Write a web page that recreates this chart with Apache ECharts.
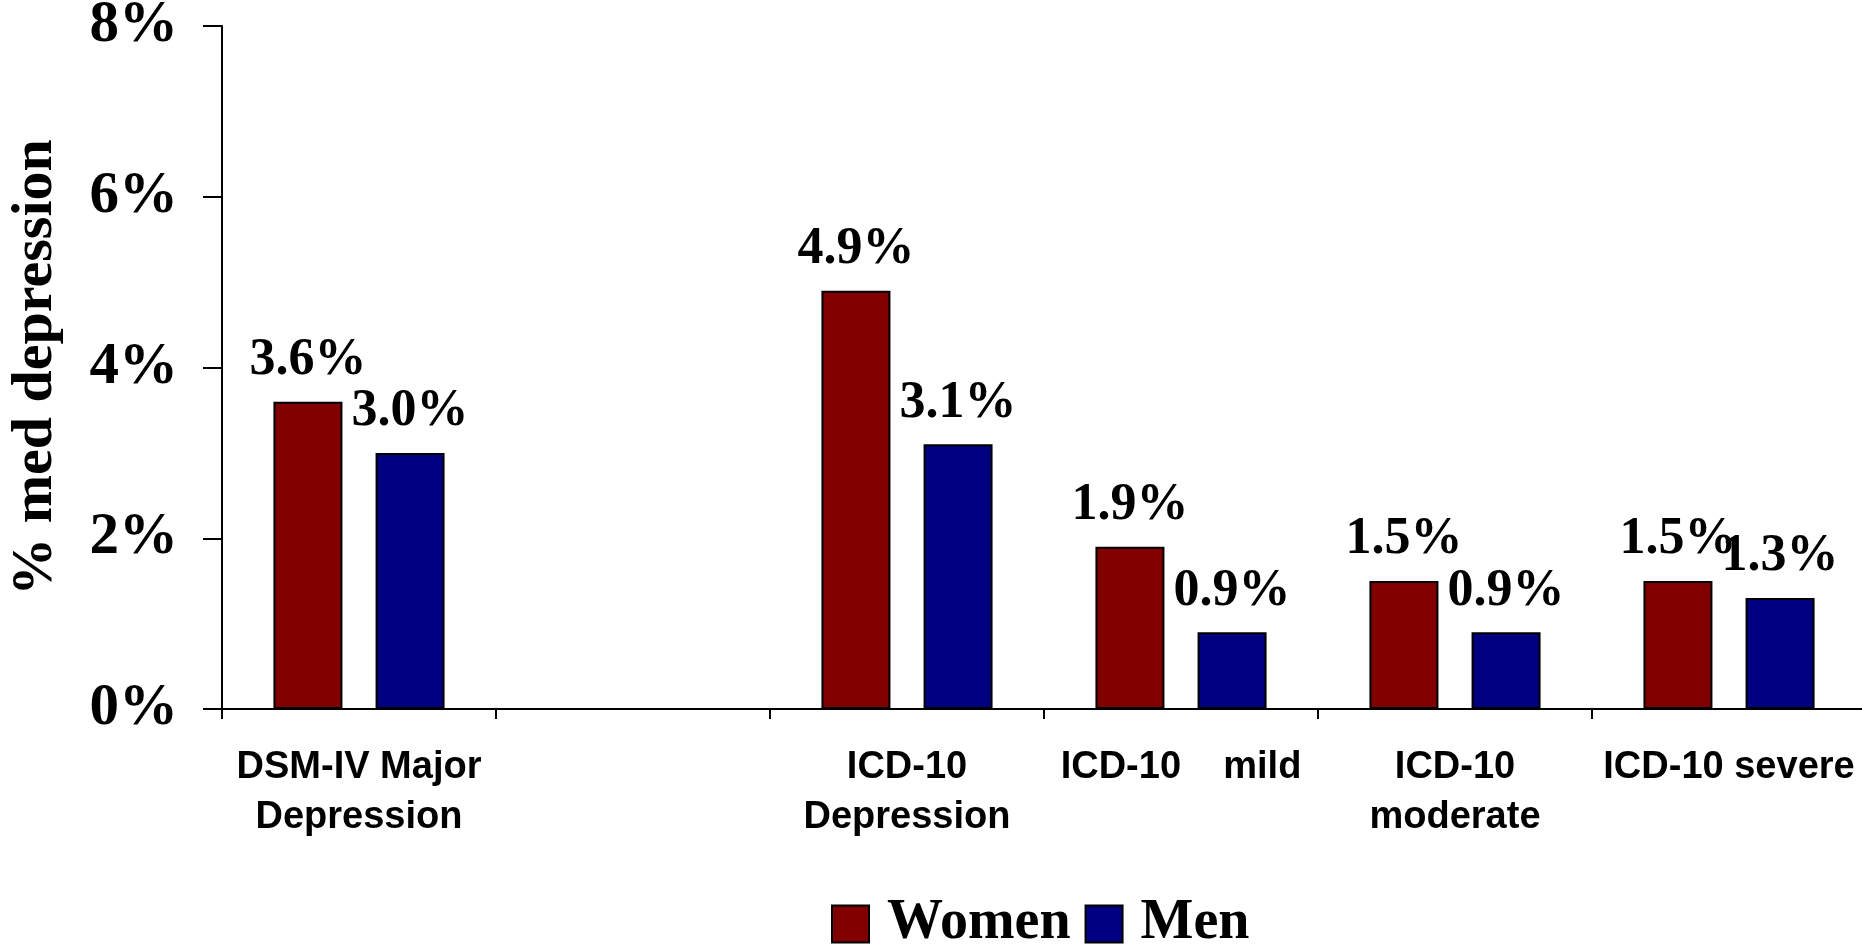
<!DOCTYPE html>
<html>
<head>
<meta charset="utf-8">
<script src="https://cdn.jsdelivr.net/npm/echarts@6/dist/echarts.min.js"></script>
<style>
html,body{margin:0;padding:0;background:#fff;}
#c{width:1862px;height:948px;}
</style>
</head>
<body>
<div id="c"></div>
<script>
var categories = ['DSM-IV Major\nDepression', '', 'ICD-10\nDepression', 'ICD-10    mild', 'ICD-10\nmoderate', 'ICD-10 severe'];
var women = [3.6, null, 4.9, 1.9, 1.5, 1.5];
var men = [3.0, null, 3.1, 0.9, 0.9, 1.3];
var yTicks = [0, 2, 4, 6, 8];

var chart = echarts.init(document.getElementById('c'), null, {renderer: 'canvas'});
var serif = '"Liberation Serif", "Times New Roman", serif';
var sans = '"Liberation Sans", Arial, sans-serif';
function lbl() {
  return {
    show: true, position: 'top', distance: 15,
    fontFamily: serif, fontWeight: 'bold', fontSize: 52, color: '#000',
    formatter: function (p) { return p.value == null ? '' : p.value.toFixed(1) + '%'; }
  };
}
chart.setOption({
  animation: false,
  backgroundColor: '#fff',
  grid: {left: 222, right: -4, top: 26, bottom: 239, containLabel: false, outerBoundsMode: 'none'},
  legend: {
    top: 891, left: 826,
    itemWidth: 37, itemHeight: 37, itemGap: 14,
    icon: 'rect',
    itemStyle: {borderColor: '#000', borderWidth: 2},
    textStyle: {fontFamily: serif, fontWeight: 'bold', fontSize: 56, color: '#000', padding: [0, 0, 0, 13]},
    data: ['Women', 'Men']
  },
  xAxis: {
    type: 'category', data: categories,
    axisLine: {lineStyle: {color: '#000', width: 2}},
    axisTick: {show: true, length: 10, lineStyle: {color: '#000', width: 2}},
    axisLabel: {interval: 0, margin: 34, fontFamily: sans, fontWeight: 'bold', fontSize: 38, lineHeight: 50, color: '#000'}
  },
  yAxis: {
    type: 'value', min: 0, max: 8, interval: 2,
    name: '% med depression', nameLocation: 'middle', nameGap: 157, nameRotate: 90,
    nameTextStyle: {fontFamily: serif, fontWeight: 'bold', fontSize: 58, color: '#000'},
    axisLine: {show: true, lineStyle: {color: '#000', width: 2}},
    axisTick: {show: true, length: 19, lineStyle: {color: '#000', width: 2}},
    splitLine: {show: false},
    axisLabel: {margin: 44, padding: [12, 0, 0, 0], fontFamily: serif, fontWeight: 'bold', fontSize: 59, color: '#000',
      formatter: function (v) { return yTicks.indexOf(v) >= 0 ? v + '%' : ''; }}
  },
  series: [
    {name: 'Women', type: 'bar', data: women, barWidth: 69, barGap: '48%',
     itemStyle: {color: '#800000', borderColor: '#000', borderWidth: 2}, label: lbl()},
    {name: 'Men', type: 'bar', data: men, barWidth: 69,
     itemStyle: {color: '#000080', borderColor: '#000', borderWidth: 2}, label: lbl()}
  ]
});
</script>
</body>
</html>
